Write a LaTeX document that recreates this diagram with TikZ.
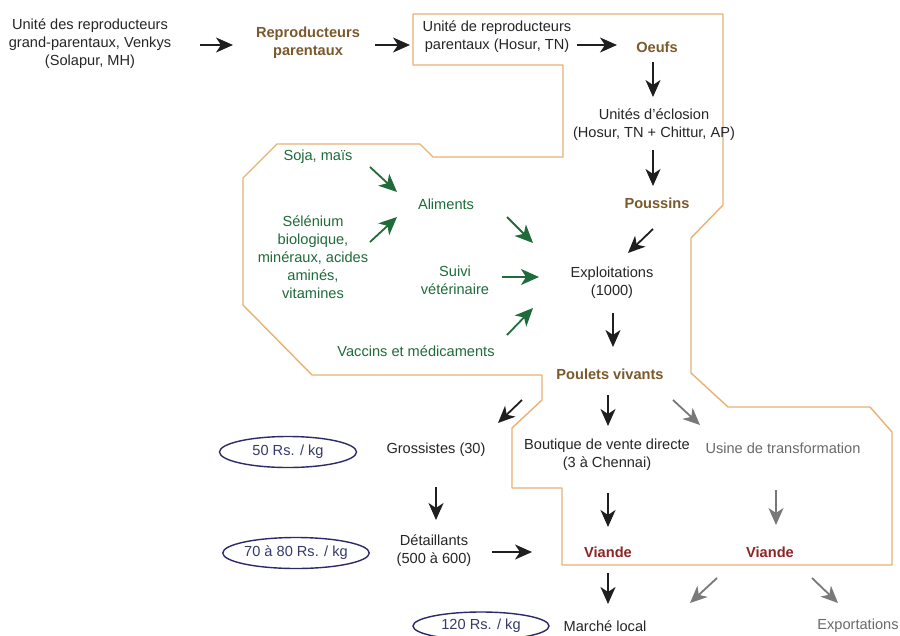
\documentclass[tikz,border=0pt]{standalone}
\usepackage{fontspec}
\setmainfont{Liberation Sans}
\usetikzlibrary{arrows.meta,calc,shapes.geometric}
\definecolor{txt}{HTML}{262626}
\definecolor{brn}{HTML}{7A5A2C}
\definecolor{grn}{HTML}{1F6B3A}
\definecolor{vred}{HTML}{8E2424}
\definecolor{gry}{HTML}{6A6A6A}
\definecolor{navy}{HTML}{2D2A6A}
\definecolor{navytxt}{HTML}{353A6A}
\definecolor{orng}{HTML}{E8B274}
\begin{document}
\begin{tikzpicture}[x=1pt,y=-1pt,
  every node/.style={inner sep=0pt, align=center, font=\fontsize{14.6}{18}\selectfont, text=txt},
  lbl/.style={},
  brownlbl/.style={text=brn, font=\fontsize{14.6}{18}\selectfont\bfseries},
  greenlbl/.style={text=grn},
  redlbl/.style={text=vred, font=\fontsize{14.6}{18}\selectfont\bfseries},
  greylbl/.style={text=gry},
  price/.style={ellipse, draw=navy, line width=1.4pt, text=navytxt, minimum height=31pt},
  arr/.style={-{Stealth[length=17pt,width=15pt,inset=5pt]}, line width=1.8pt, draw=black!88},
  garr/.style={arr, draw=grn, -{Stealth[length=18pt,width=16pt,inset=5pt]}},
  grarr/.style={arr, draw=gry!90},
  outline/.style={draw=orng, line width=1.4pt, line join=round}
]
\useasboundingbox (0,0) rectangle (900,635);
\fill[white] (0,0) rectangle (900,635);

% orange outline
\draw[outline] (413,14) -- (723,14) -- (723,205) -- (691,238) -- (691,373) -- (728,407)
  -- (870,407) -- (892,432) -- (892,565) -- (562,565) -- (562,488) -- (512,488)
  -- (512,428) -- (542,400) -- (542,375) -- (312,375) -- (243,305) -- (243,178)
  -- (277,144) -- (420,144) -- (433,157) -- (563,157) -- (563,65) -- (413,65) -- cycle;

% nodes
\node[lbl] (gp) at (90,44) {Unité des reproducteurs\\grand-parentaux, Venkys\\(Solapur, MH)};
\node[brownlbl] (rp) at (308,43) {Reproducteurs\\parentaux};
\node[lbl] (urp) at (497,37) {Unité de reproducteurs\\parentaux (Hosur, TN)};
\node[brownlbl] (oeufs) at (657,47) {Oeufs};
\node[lbl] (eclos) at (654,125) {Unités d{\char"27}éclosion\\(Hosur, TN + Chittur, AP)};
\node[brownlbl] (poussins) at (657,203) {Poussins};
\node[lbl] (exploit) at (612,283) {Exploitations\\(1000)};
\node[brownlbl] (poulets) at (610,374) {Poulets vivants};

\node[greenlbl] (soja) at (318,157) {Soja, maïs};
\node[greenlbl] (selen) at (313,257) {Sélénium\\biologique,\\minéraux, acides\\aminés,\\vitamines};
\node[greenlbl] (aliments) at (446,204) {Aliments};
\node[greenlbl] (suivi) at (455,280) {Suivi\\vétérinaire};
\node[greenlbl] (vaccins) at (416,351) {Vaccins et médicaments};

\node[lbl] (gross) at (436,450) {Grossistes (30)};
\node[lbl] (boutique) at (607,455) {Boutique de vente directe\\(3 à Chennai)};
\node[greylbl] (usine) at (783,448) {Usine de transformation};
\node[lbl] (detail) at (434,551) {Détaillants\\(500 à 600)};
\node[redlbl] (viande1) at (608,552) {Viande};
\node[redlbl] (viande2) at (770,552) {Viande};
\node[lbl] (marche) at (605,626) {Marché local};
\node[greylbl] (export) at (858,626) {Exportations};

\node[price, minimum width=137pt] (p50) at (288,452) {50 Rs. / kg};
\node[price, minimum width=135pt] (p70) at (296,553) {70 à 80 Rs. / kg};
\node[price, minimum width=136pt, minimum height=28pt] (p120) at (481,626) {120 Rs. / kg};

% connectors
\draw[arr] ($(gp)+(110,1)$) -- ($(rp)+(-75,2)$);
\draw[arr] ($(rp)+(67,2)$) -- ($(urp)+(-87,8)$);
\draw[arr] ($(urp)+(80,8)$) -- ($(oeufs)+(-40,-2)$);
\draw[arr] ($(oeufs)+(-4,15)$) -- ($(eclos)+(-1,-28)$);
\draw[arr] ($(eclos)+(-1,25)$) -- ($(poussins)+(-4,-17)$);
\draw[arr] ($(poussins)+(-4,26)$) -- ($(exploit)+(16,-30)$);
\draw[arr] ($(exploit)+(1,30)$) -- ($(poulets)+(3,-27)$);

\draw[garr] ($(soja)+(52,10)$) -- ($(aliments)+(-49,-12)$);
\draw[garr] ($(selen)+(57,-15)$) -- ($(aliments)+(-49,13)$);
\draw[garr] ($(aliments)+(61,13)$) -- ($(exploit)+(-79,-40)$);
\draw[garr] ($(suivi)+(47,-3)$) -- ($(exploit)+(-73,-6)$);
\draw[garr] ($(vaccins)+(91,-16)$) -- ($(exploit)+(-79,25)$);

\draw[arr] ($(poulets)+(-88,26)$) -- ($(gross)+(62,-27)$);
\draw[arr] ($(poulets)+(-2,21)$) -- ($(boutique)+(1,-29)$);
\draw[grarr] ($(poulets)+(63,26)$) -- ($(usine)+(-83,-23)$);
\draw[arr] ($(gross)+(0,37)$) -- ($(detail)+(2,-31)$);
\draw[arr] ($(detail)+(58,1)$) -- ($(viande1)+(-76,0)$);
\draw[arr] ($(boutique)+(1,38)$) -- ($(viande1)+(0,-25)$);
\draw[grarr] ($(usine)+(-7,42)$) -- ($(viande2)+(6,-27)$);
\draw[arr] ($(viande1)+(0,21)$) -- ($(marche)+(3,-22)$);
\draw[grarr] ($(viande2)+(-53,26)$) -- ($(marche)+(85,-23)$);
\draw[grarr] ($(viande2)+(42,26)$) -- ($(export)+(-20,-23)$);
\end{tikzpicture}
\end{document}
